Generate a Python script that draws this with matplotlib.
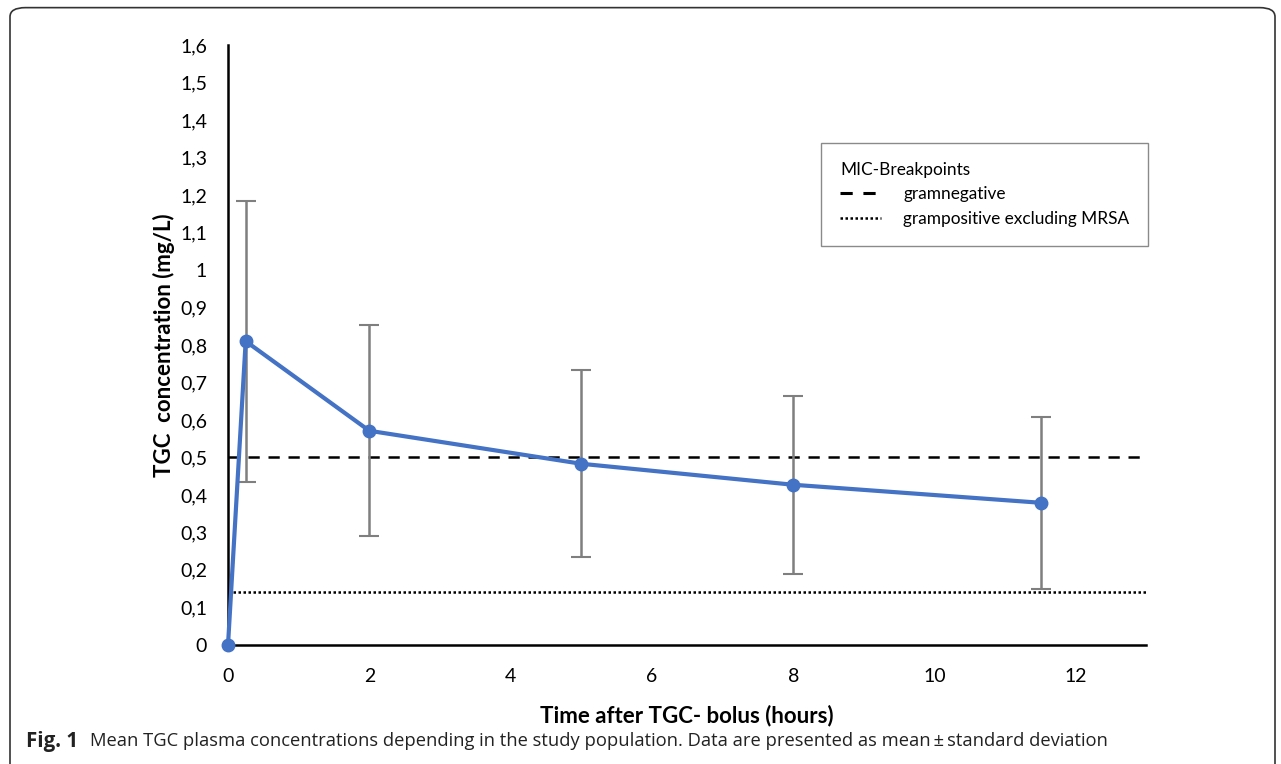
import matplotlib.pyplot as plt
from matplotlib.lines import Line2D
from matplotlib.patches import FancyBboxPatch

# mean TGC plasma concentration over time
time_h = [0, 0.25, 2, 5, 8, 11.5]
conc_mean = [0, 0.81, 0.571, 0.483, 0.427, 0.379]
conc_sd = [0, 0.375, 0.281, 0.25, 0.237, 0.23]

# MIC breakpoints
mic_gramneg = 0.5
mic_grampos = 0.14

yticks = [i / 10 for i in range(0, 17)]
ytick_labels = ['0' if v == 0 else ('1' if v == 1 else f'{v:.1f}'.replace('.', ',')) for v in yticks]
xticks = [0, 2, 4, 6, 8, 10, 12]

plt.rcParams['font.family'] = ['Lato', 'DejaVu Sans']

fig = plt.figure(figsize=(12.81, 7.64), dpi=100)
ax = fig.add_axes([0.178, 0.156, 0.717, 0.785])

ax.axhline(mic_gramneg, color='black', ls=(0, (4.5, 3.5)), lw=1.8, xmin=0, xmax=1, zorder=1)
ax.axhline(mic_grampos, color='black', ls=(0, (1, 1)), lw=1.8, xmin=0.005, xmax=1, zorder=1)

ax.errorbar(time_h[1:], conc_mean[1:], yerr=conc_sd[1:], fmt='none', ecolor='#7f7f7f',
            elinewidth=1.8, capsize=7, capthick=1.5, zorder=2)
ax.plot(time_h, conc_mean, color='#4472c4', lw=3, marker='o', ms=9, zorder=3, clip_on=False)

ax.set_xlim(0, 13)
ax.set_ylim(0, 1.6)
ax.set_xticks(xticks)
ax.set_xticklabels([str(v) for v in xticks], fontsize=14)
ax.set_yticks(yticks)
ax.set_yticklabels(ytick_labels, fontsize=14)
ax.tick_params(length=0, pad=15)
ax.tick_params(axis='x', pad=16.5)
for s in ['top', 'right']:
    ax.spines[s].set_visible(False)
ax.spines['left'].set_linewidth(1.8)
ax.spines['bottom'].set_linewidth(1.8)

ax.set_xlabel('Time after TGC- bolus (hours)', fontsize=16, fontweight='bold', labelpad=14)
ax.set_ylabel('TGC  concentration (mg/L)', fontsize=16, fontweight='bold', labelpad=4)

handles = [Line2D([], [], color='black', ls=(0, (4, 3.5)), lw=2.2),
           Line2D([], [], color='black', ls=(0, (1, 1)), lw=1.8)]
leg = ax.legend(handles, ['gramnegative', 'grampositive excluding MRSA'],
                title='MIC-Breakpoints', loc='upper left', bbox_to_anchor=(0.646, 0.837),
                fontsize=12.4, title_fontsize=12.4, fancybox=False, edgecolor='#8a8a8a',
                framealpha=1, handlelength=2.35, handletextpad=1.3, borderpad=1.1,
                labelspacing=0.5, borderaxespad=0)
leg._legend_box.align = 'left'
leg.get_frame().set_linewidth(1)

# outer figure frame and caption
frame = FancyBboxPatch((10 / 1281, -0.05), 1265 / 1281, 1.04, transform=fig.transFigure,
                       boxstyle='round,pad=0,rounding_size=0.012', fill=False,
                       edgecolor='#333333', lw=1.2)
fig.patches.append(frame)
cap_font = ['Open Sans', 'DejaVu Sans']
fig.text(26 / 1281, 1 - 741 / 764, 'Fig. 1', fontsize=14.8, fontweight='bold', va='center',
         family=cap_font, color='#222222')
fig.text(90 / 1281, 1 - 741 / 764,
         'Mean TGC plasma concentrations depending in the study population. '
         'Data are presented as mean\u2009\u00b1\u2009standard deviation',
         fontsize=13.2, va='center', family=cap_font, color='#222222')

fig.savefig('out.png', dpi=100)
